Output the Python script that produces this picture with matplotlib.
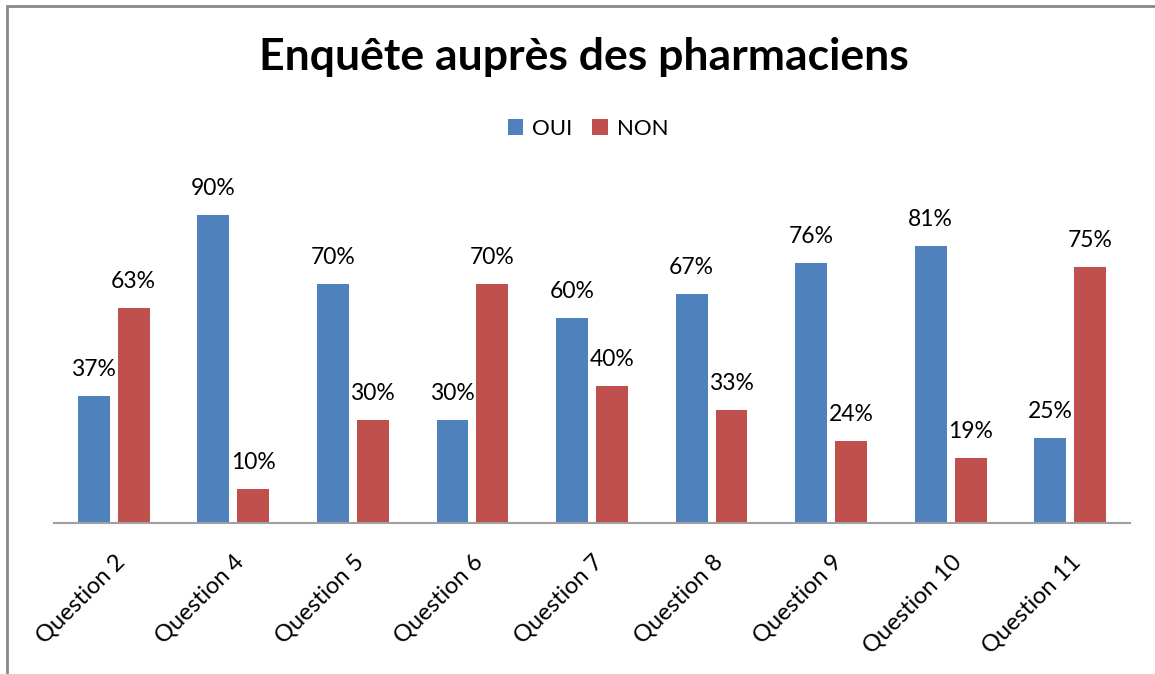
import matplotlib
matplotlib.use("Agg")
import matplotlib.pyplot as plt
from matplotlib.patches import Rectangle
import numpy as np

categories = ["Question 2", "Question 4", "Question 5", "Question 6", "Question 7",
              "Question 8", "Question 9", "Question 10", "Question 11"]
oui = [37, 90, 70, 30, 60, 67, 76, 81, 25]
non = [63, 10, 30, 70, 40, 33, 24, 19, 75]
series_names = ["OUI", "NON"]
title = "Enquête auprès des pharmaciens"

plt.rcParams['font.family'] = ['Lato', 'DejaVu Sans']

W, H = 1155, 674
fig = plt.figure(figsize=(W / 100, H / 100), dpi=100)

# outer chart border
fig.patches.append(Rectangle((7 / W, -0.1), 1.2, (H - 5.5) / H + 0.1, transform=fig.transFigure,
                             fill=False, edgecolor="#898989", linewidth=2))

left, right, base, top = 54, 1130, 523, 181
ax = fig.add_axes([left / W, (H - base) / H, (right - left) / W, (base - top) / H])

x = np.arange(len(categories))
bw = 0.267
off = 0.167
blue, red = "#4F81BD", "#C0504D"
b1 = ax.bar(x - off, oui, bw, color=blue, label=series_names[0])
b2 = ax.bar(x + off, non, bw, color=red, label=series_names[1])

for bars, vals in ((b1, oui), (b2, non)):
    for r, v in zip(bars, vals):
        ax.annotate(f"{v}%", (r.get_x() + r.get_width() / 2, v), xytext=(0, 11.5),
                    textcoords="offset points", ha="center", va="bottom", fontsize=16.5)

ax.set_xlim(-0.5, len(categories) - 0.5)
ax.set_ylim(0, 100)
for s in ("top", "right", "left"):
    ax.spines[s].set_visible(False)
ax.spines["bottom"].set_color("#A0A0A0")
ax.spines["bottom"].set_linewidth(1.5)
ax.set_yticks([])
ax.set_xticks(x)
ax.set_xticklabels(categories, rotation=45, ha="right", rotation_mode="anchor", fontsize=17)
ax.tick_params(axis="x", length=0, pad=20)

fig.text(584 / W, 1 - 57 / H, title, ha="center", va="center", fontsize=32, fontweight="bold")
fig.legend(handles=[b1, b2], labels=series_names, loc="center", bbox_to_anchor=(588 / W, 1 - 129 / H),
           ncol=2, frameon=False, fontsize=16, handlelength=0.7, handleheight=0.7,
           handletextpad=0.4, columnspacing=0.9)

fig.savefig("out.png", dpi=100)
